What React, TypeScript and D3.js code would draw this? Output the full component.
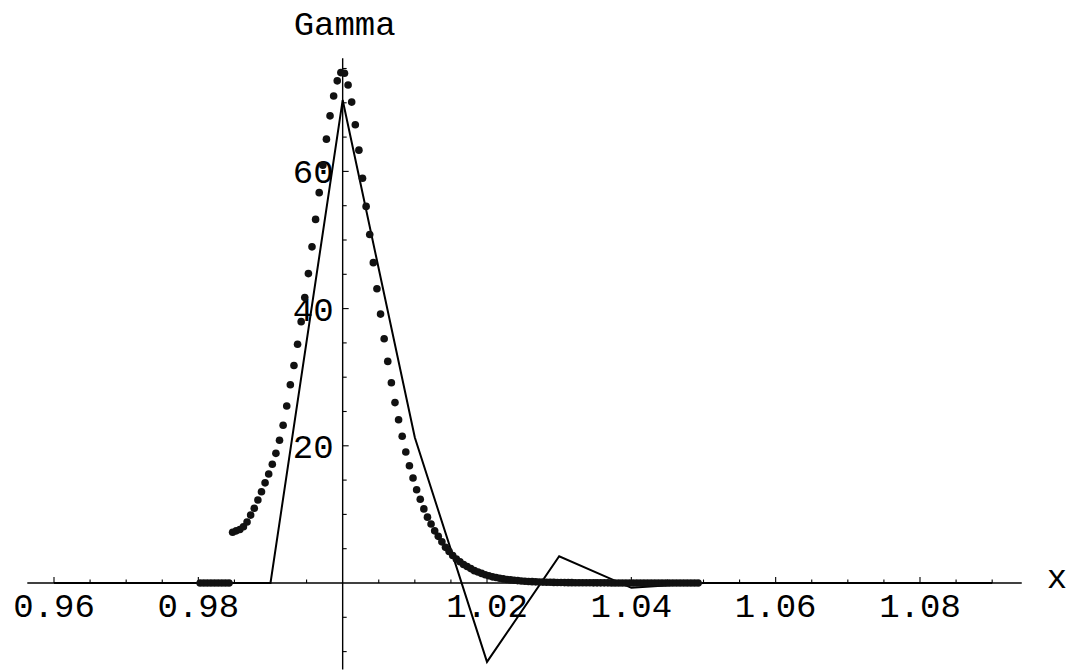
import React from 'react';
import * as d3 from 'd3';

const W = 1068;
const H = 670;

// labelled ticks
const xLabels = [0.96, 0.98, 1.02, 1.04, 1.06, 1.08];
const yLabels = [20, 40, 60];

// solid line series (sampled every 0.01)
const lineX = [0.96, 0.97, 0.98, 0.99, 1.0, 1.01, 1.02, 1.03, 1.04, 1.05, 1.06, 1.07, 1.08, 1.09];
const lineY = [0, 0, 0, 0, 70.4, 21.2, -11.5, 3.9, -0.7, 0, 0, 0, 0, 0];

// dotted series: start + step for x
const dotStart = 0.98025;
const dotStep = 0.0005;
const dotY = [
  0, 0, 0, 0, 0, 0, 0, 0, 0,
  7.4, 7.6, 7.8, 8.2, 8.9, 9.9, 10.9, 12.1, 13.3, 14.6,
  15.9, 17.3, 18.9, 20.8, 23.0, 25.8, 28.9, 31.7, 34.8, 38.1,
  41.6, 45.1, 49.0, 53.0, 56.9, 60.9, 64.7, 68.1, 71.0, 73.2,
  74.4, 74.3, 72.6, 70.1, 66.8, 63.1, 59.0, 54.9, 50.8, 46.7,
  42.9, 39.2, 35.6, 32.3, 29.2, 26.3, 23.8, 21.4, 19.1, 17.1,
  15.3, 13.6, 12.2, 10.8, 9.6, 8.6, 7.6, 6.8, 6.0, 5.2,
  4.6, 4.0, 3.5, 3.1, 2.7, 2.4, 2.1, 1.8, 1.6, 1.4,
  1.2, 1.05, 0.9, 0.8, 0.7, 0.6, 0.5, 0.45, 0.4, 0.35,
  0.3, 0.26, 0.22, 0.2, 0.17, 0.15, 0.13, 0.12, 0.1, 0.09,
  0.08, 0.07, 0.06, 0.05, 0.05, 0.04, 0.04, 0.03, 0.03, 0.03,
  0.02, 0.02, 0.02, 0.02, 0.02, 0.01, 0.01, 0.01, 0.01, 0.01,
  0.01, 0.01, 0.01, 0.01, 0.01, 0.01, 0.01, 0.01, 0.01, 0.01,
  0.01, 0.01, 0.01, 0.01, 0.01, 0.01, 0.01, 0.01, 0.01, 0,
];

const FONT = '"Liberation Mono", "Courier New", monospace';

export default function App() {
  const x = d3.scaleLinear().domain([0.96, 1.08]).range([54, 920]);
  const y = d3.scaleLinear().domain([0, 60]).range([583, 171.4]);

  const xMin = 0.9563;
  const xMax = 1.0941;
  const yMin = -12.6;
  const yMax = 76.5;

  const x0 = x(1);
  const y0 = y(0);

  const xTicks = d3.range(0.96, 1.0901, 0.005).filter(v => Math.abs(v - 1) > 1e-6);
  const yTicks = d3.range(-10, 76, 5).filter(v => v !== 0);

  const isMajorX = (v: number) => xLabels.some(l => Math.abs(l - v) < 1e-6);

  const linePath = d3.line<number>()
    .x((d, i) => x(lineX[i]))
    .y(d => y(d))(lineY);

  return (
    <svg width={W} height={H} style={{ position: 'absolute', left: 0, top: 0, background: '#fff' }}>
      <rect width={W} height={H} fill="#fff" />

      {/* axes */}
      <line x1={x(xMin)} x2={x(xMax)} y1={y0} y2={y0} stroke="#000" strokeWidth={1.4} />
      <line x1={x0} x2={x0} y1={y(yMax)} y2={y(yMin)} stroke="#000" strokeWidth={1.4} />

      {xTicks.map(v => (
        <line key={'xt' + v} x1={x(v)} x2={x(v)} y1={y0} y2={y0 - (isMajorX(v) ? 6 : 3.5)}
          stroke="#000" strokeWidth={1.1} />
      ))}
      {yTicks.map(v => (
        <line key={'yt' + v} x1={x0} x2={x0 + (v % 20 === 0 ? 6 : 4)} y1={y(v)} y2={y(v)}
          stroke="#000" strokeWidth={1.1} />
      ))}

      {xLabels.map(v => (
        <text key={'xl' + v} x={x(v)} y={y0 + 34} textAnchor="middle"
          fontFamily={FONT} fontSize={34} fill="#000">{v.toFixed(2)}</text>
      ))}
      {yLabels.map(v => (
        <text key={'yl' + v} x={x0 - 9} y={y(v)} dy="0.35em" textAnchor="end"
          fontFamily={FONT} fontSize={34} fill="#000">{v}</text>
      ))}

      <text x={x0 + 2} y={35} textAnchor="middle" fontFamily={FONT} fontSize={34} fill="#000">Gamma</text>
      <text x={1057} y={588} textAnchor="middle" fontFamily={FONT} fontSize={34} fill="#000">x</text>

      {/* solid line */}
      <path d={linePath || ''} fill="none" stroke="#000" strokeWidth={2} strokeLinejoin="miter" />

      {/* dots */}
      {dotY.map((v, i) => (
        <circle key={'d' + i} cx={x(dotStart + i * dotStep)} cy={y(v)} r={3.8} fill="#111" />
      ))}
    </svg>
  );
}
